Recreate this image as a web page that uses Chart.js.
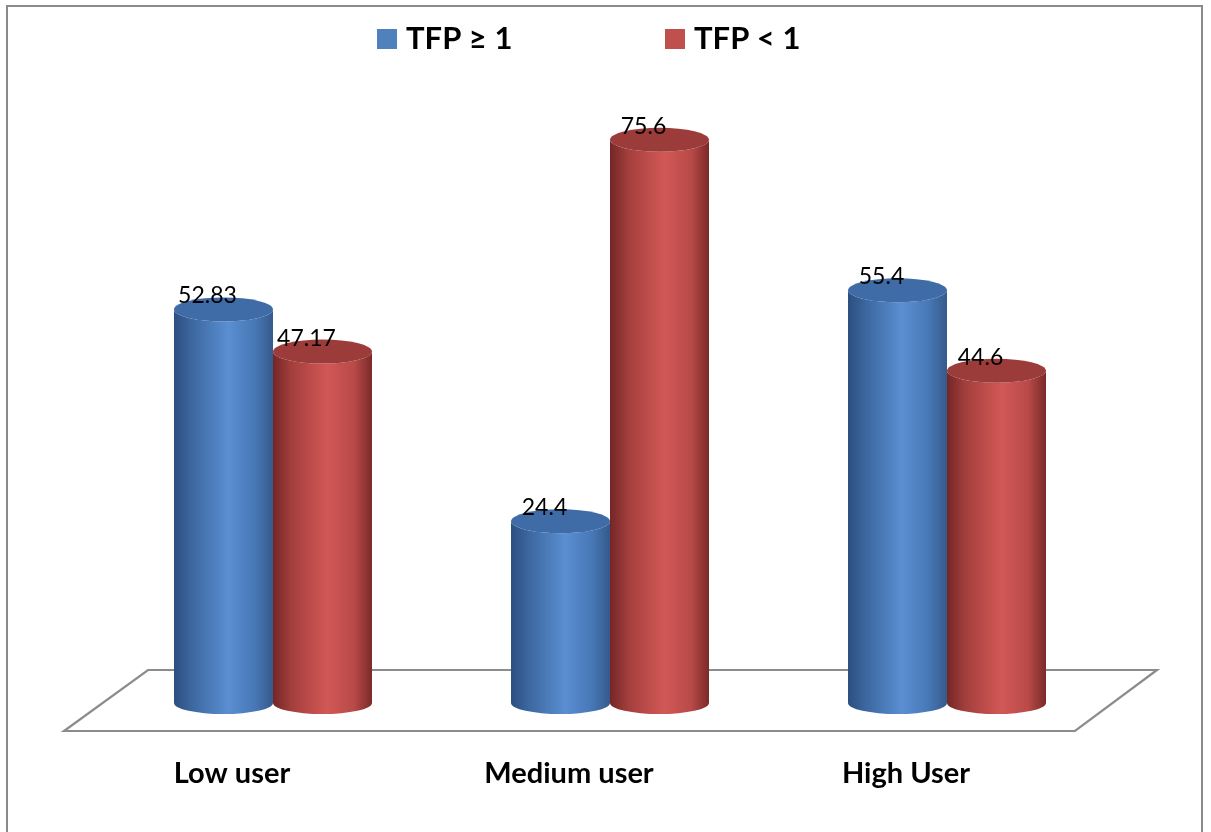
<!DOCTYPE html>
<html>
<head>
<meta charset="utf-8">
<title>TFP by user group</title>
<script src="https://cdn.jsdelivr.net/npm/chart.js@4"></script>
<style>
  html, body { margin: 0; padding: 0; background: #ffffff; }
  canvas { display: block; }
</style>
</head>
<body>
<canvas id="chart" width="1211" height="832"></canvas>
<script>
// Share of farms in each user group by total factor productivity (%)
const categories = ['Low user', 'Medium user', 'High User'];
const seriesNames = ['TFP \u2265 1', 'TFP < 1'];
const tfpAtLeastOne = [52.83, 24.4, 55.4];
const tfpBelowOne = [47.17, 75.6, 44.6];

// Colour sets for the cylinders: flat legend colour, shaded side, top cap
const palettes = [
  {
    legend: '#4f81bd',
    side: [[0, '#2c4f80'], [0.18, '#3c679f'], [0.55, '#5a8fd2'], [0.82, '#4777b5'], [1, '#355a8c']],
    cap: '#3f6ca6'
  },
  {
    legend: '#c0504d',
    side: [[0, '#742626'], [0.18, '#a23e3c'], [0.55, '#d25856'], [0.82, '#b84a48'], [1, '#7a2a29']],
    cap: '#9c3c3a'
  }
];

const CAP_RY = 12;

function drawCylinder(ctx, cx, topY, baseY, w, pal) {
  const l = cx - w / 2, r = cx + w / 2;
  const g = ctx.createLinearGradient(l, 0, r, 0);
  pal.side.forEach(s => g.addColorStop(s[0], s[1]));
  ctx.save();
  ctx.beginPath();
  ctx.moveTo(l, topY);
  ctx.lineTo(l, baseY);
  ctx.ellipse(cx, baseY, w / 2, CAP_RY - 1, 0, Math.PI, 0, true);
  ctx.lineTo(r, topY);
  ctx.ellipse(cx, topY, w / 2, CAP_RY, 0, 0, Math.PI, false);
  ctx.closePath();
  ctx.fillStyle = g;
  ctx.fill();
  // top cap
  ctx.beginPath();
  ctx.ellipse(cx, topY, w / 2, CAP_RY, 0, 0, Math.PI * 2);
  ctx.fillStyle = pal.cap;
  ctx.fill();
  ctx.restore();
}

const cylinderPlugin = {
  id: 'cylinders',
  beforeDraw(chart) {
    const ctx = chart.ctx;
    ctx.save();
    ctx.fillStyle = '#ffffff';
    ctx.fillRect(0, 0, chart.width, chart.height);
    // outer frame
    ctx.strokeStyle = '#8a8a8a';
    ctx.lineWidth = 2;
    ctx.beginPath();
    ctx.moveTo(7, chart.height + 2);
    ctx.lineTo(7, 6);
    ctx.lineTo(1202, 6);
    ctx.lineTo(1202, chart.height + 2);
    ctx.stroke();
    ctx.restore();
  },
  beforeDatasetsDraw(chart) {
    const ctx = chart.ctx;
    const a = chart.chartArea;
    const zero = chart.scales.y.getPixelForValue(0);
    // floor of the 3-D plot
    ctx.save();
    ctx.strokeStyle = '#8c8c8c';
    ctx.lineWidth = 2.2;
    ctx.lineJoin = 'miter';
    ctx.beginPath();
    ctx.moveTo(a.left + 43.5, zero - 33);
    ctx.lineTo(a.right + 41.5, zero - 33);
    ctx.lineTo(a.right - 40.5, zero + 28);
    ctx.lineTo(a.left - 40.5, zero + 28);
    ctx.closePath();
    ctx.stroke();
    ctx.restore();
  },
  afterDatasetsDraw(chart) {
    const ctx = chart.ctx;
    const metas = chart.data.datasets.map((d, i) => chart.getDatasetMeta(i));
    categories.forEach((c, j) => {
      metas.forEach((m, i) => {
        const bar = m.data[j];
        drawCylinder(ctx, bar.x, bar.y, bar.base, bar.width, palettes[i]);
      });
    });
    // value labels
    ctx.save();
    ctx.fillStyle = '#000000';
    ctx.font = '23px Lato, "Open Sans", sans-serif';
    ctx.textAlign = 'center';
    ctx.textBaseline = 'alphabetic';
    metas.forEach((m, i) => {
      m.data.forEach((bar, j) => {
        const v = chart.data.datasets[i].data[j];
        ctx.fillText(String(v), bar.x - 16, bar.y - CAP_RY + 6);
      });
    });
    // category labels along the front of the floor
    const zero = chart.scales.y.getPixelForValue(0);
    ctx.font = 'bold 29px Lato, "Open Sans", sans-serif';
    categories.forEach((c, j) => {
      ctx.fillText(c, chart.scales.x.getPixelForValue(j) - 41, zero + 80);
    });
    // legend
    ctx.textAlign = 'left';
    ctx.font = 'bold 31px Lato, "Open Sans", sans-serif';
    const legendX = [377, 665];
    seriesNames.forEach((name, i) => {
      ctx.fillStyle = palettes[i].legend;
      ctx.fillRect(legendX[i], 29, 20, 20);
      ctx.fillStyle = '#000000';
      ctx.fillText(name, legendX[i] + 29, 49);
    });
    ctx.restore();
  }
};

new Chart(document.getElementById('chart'), {
  type: 'bar',
  data: {
    labels: categories,
    datasets: [
      { label: seriesNames[0], data: tfpAtLeastOne, backgroundColor: 'rgba(0,0,0,0)' },
      { label: seriesNames[1], data: tfpBelowOne, backgroundColor: 'rgba(0,0,0,0)' }
    ]
  },
  options: {
    responsive: false,
    animation: false,
    events: [],
    layout: { padding: { left: 104.5, right: 95.5, top: 107, bottom: 129 } },
    categoryPercentage: 0.5875,
    barPercentage: 1.0,
    scales: {
      x: { display: false },
      y: { display: false, min: 0, max: 80 }
    },
    plugins: {
      legend: { display: false },
      tooltip: { enabled: false }
    }
  },
  plugins: [cylinderPlugin]
});
</script>
</body>
</html>
